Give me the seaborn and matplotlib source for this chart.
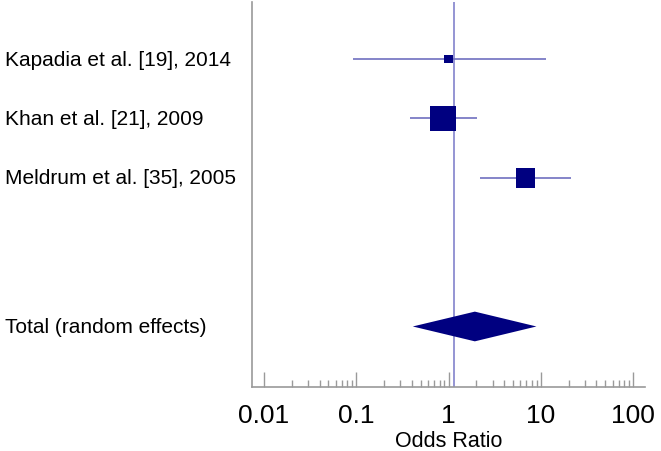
import numpy as np
import pandas as pd
import matplotlib
matplotlib.use("Agg")
import matplotlib.pyplot as plt
import matplotlib.transforms as mtransforms
from matplotlib.ticker import NullFormatter, FixedLocator
import seaborn as sns

# study data
studies = ["Kapadia et al. [19], 2014", "Khan et al. [21], 2009", "Meldrum et al. [35], 2005"]
odds = [1.0, 0.88, 6.8]
ci_low = [0.092, 0.38, 2.18]
ci_high = [11.3, 2.04, 21.1]
weights = [7.0, 60.0, 33.0]

# pooled estimate
total_label = "Total (random effects)"
total_or = 1.93
total_low = 0.41
total_high = 8.98
ref_line = 1.14

xticks = [0.01, 0.1, 1, 10, 100]
xtick_labels = ["0.01", "0.1", "1", "10", "100"]

navy = "#000080"
ci_col = "#7070c0"
axis_col = "#9a9a9a"

sns.set_style("white")
plt.rcParams["font.family"] = ["Liberation Sans", "DejaVu Sans"]
plt.rcParams["text.color"] = "black"
plt.rcParams["axes.labelcolor"] = "black"
plt.rcParams["xtick.labelcolor"] = "black"

fig = plt.figure(figsize=(6.61, 4.52), dpi=100)
ax = fig.add_axes([252 / 661, 1 - 387.5 / 452, (645 - 252) / 661, (387.5 - 3) / 452])

rows = list(range(len(studies)))
total_row = 4.5
df = pd.DataFrame({"study": studies, "odds": odds, "row": rows, "weight": weights})

ax.axvline(ref_line, color="#8c8cd0", lw=1.3, zorder=1)
ax.hlines(df["row"], ci_low, ci_high, color=ci_col, lw=1.2, zorder=2)
sns.scatterplot(data=df, x="odds", y="row", size="weight", size_norm=(0, 100),
                sizes=(0, 580), marker="s", color=navy, linewidth=0,
                legend=False, ax=ax, zorder=3)

# diamond for pooled effect
dh = 0.25
ax.fill([total_low, total_or, total_high, total_or],
        [total_row, total_row - dh, total_row, total_row + dh],
        color=navy, lw=0, zorder=3)

ax.set_xscale("log")
ax.set_xlim(10 ** -2.13, 10 ** 2.13)
ax.set_ylim(5.51, -0.96)
ax.set_yticks([])
ax.set_ylabel("")
ax.xaxis.set_major_locator(FixedLocator(xticks))
ax.set_xticklabels(xtick_labels, fontsize=19)
minor = [m * d for d in [0.01, 0.1, 1, 10] for m in range(2, 10)]
ax.xaxis.set_minor_locator(FixedLocator(minor))
ax.xaxis.set_minor_formatter(NullFormatter())
ax.tick_params(axis="x", which="major", direction="in", length=11, width=1,
               color=axis_col, pad=12, bottom=True)
ax.tick_params(axis="x", which="minor", direction="in", length=5, width=1,
               color=axis_col, bottom=True)
ax.set_xlabel("Odds Ratio", fontsize=15.5, labelpad=2)

for side in ["top", "right"]:
    ax.spines[side].set_visible(False)
for side in ["left", "bottom"]:
    ax.spines[side].set_color(axis_col)
    ax.spines[side].set_linewidth(1.2)

trans = mtransforms.blended_transform_factory(fig.transFigure, ax.transData)
for lab, r in zip(studies + [total_label], rows + [total_row]):
    ax.text(5 / 661, r, lab, transform=trans, ha="left", va="center", fontsize=15)

fig.savefig("out.png", dpi=100)
